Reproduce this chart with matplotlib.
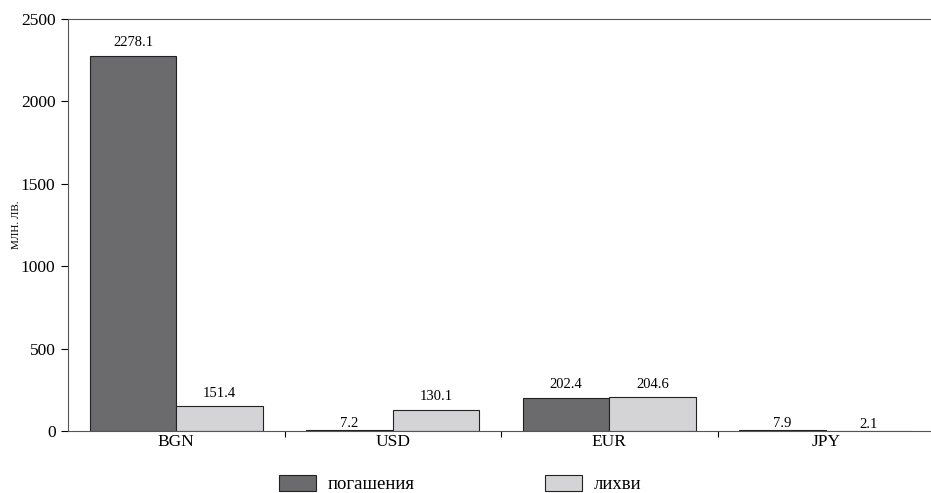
import numpy as np
import matplotlib.pyplot as plt

currencies = ["BGN", "USD", "EUR", "JPY"]
repayments = [2278.1, 7.2, 202.4, 7.9]
interest = [151.4, 130.1, 204.6, 2.1]
series_names = ["погашения", "лихви"]

plt.rcParams['font.family'] = ['Liberation Serif', 'DejaVu Serif']

fig = plt.figure(figsize=(9.31, 4.93), dpi=100)
ax = fig.add_axes([68 / 931, 62 / 493, 866 / 931, 412 / 493])

x = np.arange(len(currencies))
w = 0.4
b1 = ax.bar(x - w / 2, repayments, w, color='#6b6b6e', edgecolor='#222222', linewidth=0.8, label=series_names[0])
b2 = ax.bar(x + w / 2, interest, w, color='#d4d4d6', edgecolor='#222222', linewidth=0.8, label=series_names[1])

for bars, vals in [(b1, repayments), (b2, interest)]:
    for r, v in zip(bars, vals):
        # tiny bars get their label right on top, as in the original
        off = 0 if v < 20 else 4.5
        ax.annotate(f"{v:.1f}", (r.get_x() + r.get_width() / 2, v), xytext=(0, off),
                    textcoords='offset points', ha='center', va='bottom', fontsize=10.5)

ax.set_xlim(-0.5, 3.5)
ax.set_ylim(0, 2500)
ax.set_yticks(range(0, 2501, 500))
ax.set_xticks(x)
ax.set_xticklabels(currencies, fontsize=12.5)
ax.tick_params(axis='x', length=0, pad=2)
ax.set_xticks(np.arange(0.5, 3.5, 1), minor=True)
ax.tick_params(axis='x', which='minor', length=4, width=0.8, direction='out')
ax.tick_params(axis='y', labelsize=12.5, length=5, width=0.8, direction='out', pad=4)
ax.set_ylabel("МЛН. ЛВ.", fontsize=8)
ax.yaxis.set_label_coords(-47 / 866, 0.5)
for s in ax.spines.values():
    s.set_color('#555555')
    s.set_linewidth(0.8)

fig.legend(handles=[b1, b2], loc='center', bbox_to_anchor=(460 / 931, 1 - 484 / 493), ncol=2,
           frameon=False, fontsize=13.5, handlelength=1.97, handleheight=1.0, columnspacing=6.93, handletextpad=0.64)

fig.savefig("out.png", dpi=100)
